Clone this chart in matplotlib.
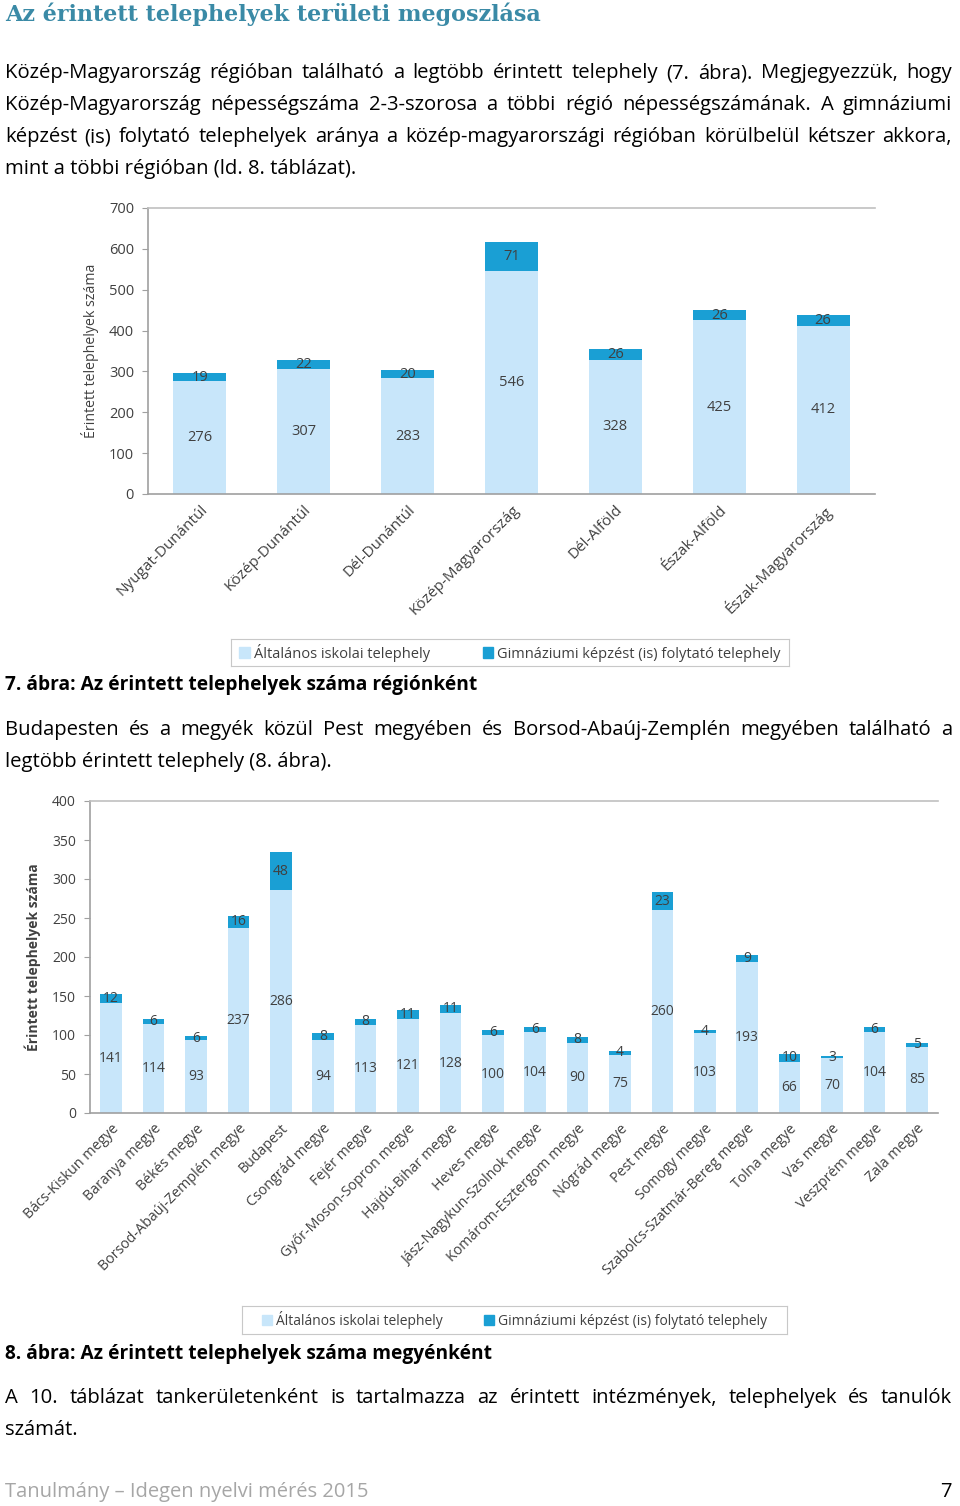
import matplotlib
matplotlib.use('Agg')
import matplotlib.pyplot as plt
import numpy as np

plt.rcParams['font.family'] = ['Open Sans', 'DejaVu Sans']

# 7. ábra adatai
regions = ['Nyugat-Dunántúl', 'Közép-Dunántúl', 'Dél-Dunántúl', 'Közép-Magyarország',
           'Dél-Alföld', 'Észak-Alföld', 'Észak-Magyarország']
reg_alt = [276, 307, 283, 546, 328, 425, 412]
reg_gimn = [19, 22, 20, 71, 26, 26, 26]

# 8. ábra adatai
counties = ['Bács-Kiskun megye', 'Baranya megye', 'Békés megye', 'Borsod-Abaúj-Zemplén megye',
            'Budapest', 'Csongrád megye', 'Fejér megye', 'Győr-Moson-Sopron megye',
            'Hajdú-Bihar megye', 'Heves megye', 'Jász-Nagykun-Szolnok megye',
            'Komárom-Esztergom megye', 'Nógrád megye', 'Pest megye', 'Somogy megye',
            'Szabolcs-Szatmár-Bereg megye', 'Tolna megye', 'Vas megye', 'Veszprém megye',
            'Zala megye']
cty_alt = [141, 114, 93, 237, 286, 94, 113, 121, 128, 100, 104, 90, 75, 260, 103, 193, 66, 70, 104, 85]
cty_gimn = [12, 6, 6, 16, 48, 8, 8, 11, 11, 6, 6, 8, 4, 23, 4, 9, 10, 3, 6, 5]

legend_labels = ['Általános iskolai telephely', 'Gimnáziumi képzést (is) folytató telephely']

LIGHT = '#c8e6fa'
DARK = '#1a9fd4'
TXT = '#404040'
W, H = 960, 1506

fig = plt.figure(figsize=(W / 100, H / 100), dpi=100)
renderer = fig.canvas.get_renderer()


def fy(px):
    return 1 - px / H


def justify(words, ypx, size, x0=5, x1=952):
    objs = [fig.text(0, fy(ypx), w, fontsize=size, va='center', color='black') for w in words.split()]
    widths = [o.get_window_extent(renderer).width for o in objs]
    gap = (x1 - x0 - sum(widths)) / (len(objs) - 1)
    x = x0
    for o, w in zip(objs, widths):
        o.set_x(x / W)
        x += w + gap


def plain(s, ypx, size, x0=5, **kw):
    fig.text(x0 / W, fy(ypx), s, fontsize=size, va='center', **kw)


fig.text(5 / W, fy(14), 'Az érintett telephelyek területi megoszlása', fontsize=16,
         family='DejaVu Serif', weight='bold', color='#3a8aa6', va='center')

BODY = 14.6
justify('Közép-Magyarország régióban található a legtöbb érintett telephely (7. ábra). Megjegyezzük, hogy', 73, BODY)
justify('Közép-Magyarország népességszáma 2-3-szorosa a többi régió népességszámának. A gimnáziumi', 105, BODY)
justify('képzést (is) folytató telephelyek aránya a közép-magyarországi régióban körülbelül kétszer akkora,', 137, BODY)
plain('mint a többi régióban (ld. 8. táblázat).', 169, BODY)

plain('7. ábra: Az érintett telephelyek száma régiónként', 685, 13.8, weight='bold')
justify('Budapesten és a megyék közül Pest megyében és Borsod-Abaúj-Zemplén megyében található a', 730, BODY)
plain('legtöbb érintett telephely (8. ábra).', 762, BODY)

plain('8. ábra: Az érintett telephelyek száma megyénként', 1354, 13.8, weight='bold')
justify('A 10. táblázat tankerületenként is tartalmazza az érintett intézmények, telephelyek és tanulók', 1398, BODY)
plain('számát.', 1430, BODY)

plain('Tanulmány – Idegen nyelvi mérés 2015', 1492, 14.5, color='#a6a6a6')
fig.text(952 / W, fy(1492), '7', fontsize=14.5, ha='right', va='center')


def chart(rect, cats, alt, gimn, ymax, step, ylabel_bold, ylab_x, leg_rect, fs, xfs, ylfs, colsp):
    l, t, r, b = rect
    ax = fig.add_axes([l / W, fy(b), (r - l) / W, (b - t) / H])
    x = np.arange(len(cats))
    ax.bar(x, alt, width=0.51, color=LIGHT)
    ax.bar(x, gimn, width=0.51, bottom=alt, color=DARK)
    for i in range(len(cats)):
        ax.text(x[i], alt[i] / 2, str(alt[i]), ha='center', va='center', fontsize=fs, color=TXT)
        ax.text(x[i], alt[i] + gimn[i] / 2, str(gimn[i]), ha='center', va='center', fontsize=fs, color=TXT)
    ax.set_xlim(-0.5, len(cats) - 0.5)
    ax.set_ylim(0, ymax)
    ax.set_yticks(np.arange(0, ymax + 1, step))
    ax.set_xticks(x)
    ax.set_xticklabels(cats, rotation=45, ha='right', rotation_mode='anchor', fontsize=xfs, color=TXT)
    ax.tick_params(axis='x', length=0, pad=6)
    ax.tick_params(axis='y', length=4, color='#a0a0a0', labelsize=fs, labelcolor=TXT, pad=6)
    ax.spines['right'].set_visible(False)
    for s in ['left', 'bottom', 'top']:
        ax.spines[s].set_color('#a0a0a0')
        ax.spines[s].set_linewidth(1.2)
    ax.spines['top'].set_color('#c0c0c0')
    fig.text(ylab_x / W, fy((t + b) / 2), 'Érintett telephelyek száma', rotation=90, ha='center', va='center',
             fontsize=ylfs, color=TXT, weight='bold' if ylabel_bold else 'normal')
    ll, lt, lr, lb = leg_rect
    lax = fig.add_axes([ll / W, fy(lb), (lr - ll) / W, (lb - lt) / H])
    lax.set_xticks([])
    lax.set_yticks([])
    for s in lax.spines.values():
        s.set_color('#c8c8c8')
    h1 = plt.Rectangle((0, 0), 1, 1, color=LIGHT)
    h2 = plt.Rectangle((0, 0), 1, 1, color=DARK)
    lax.legend([h1, h2], legend_labels, loc='center', ncol=2, frameon=False, fontsize=fs,
               handlelength=0.7, handleheight=0.7, handletextpad=0.3, columnspacing=colsp,
               labelcolor=TXT, borderpad=0)


chart((148, 208, 875, 494), regions, reg_alt, reg_gimn, 700, 100, False, 90, (231, 639, 789, 666),
      10.5, 11, 10.2, 3.6)
chart((90, 801, 938, 1113), counties, cty_alt, cty_gimn, 400, 50, True, 33, (242, 1306, 787, 1334),
      10, 10.3, 10, 3.0)

fig.savefig('out.png', dpi=100)
